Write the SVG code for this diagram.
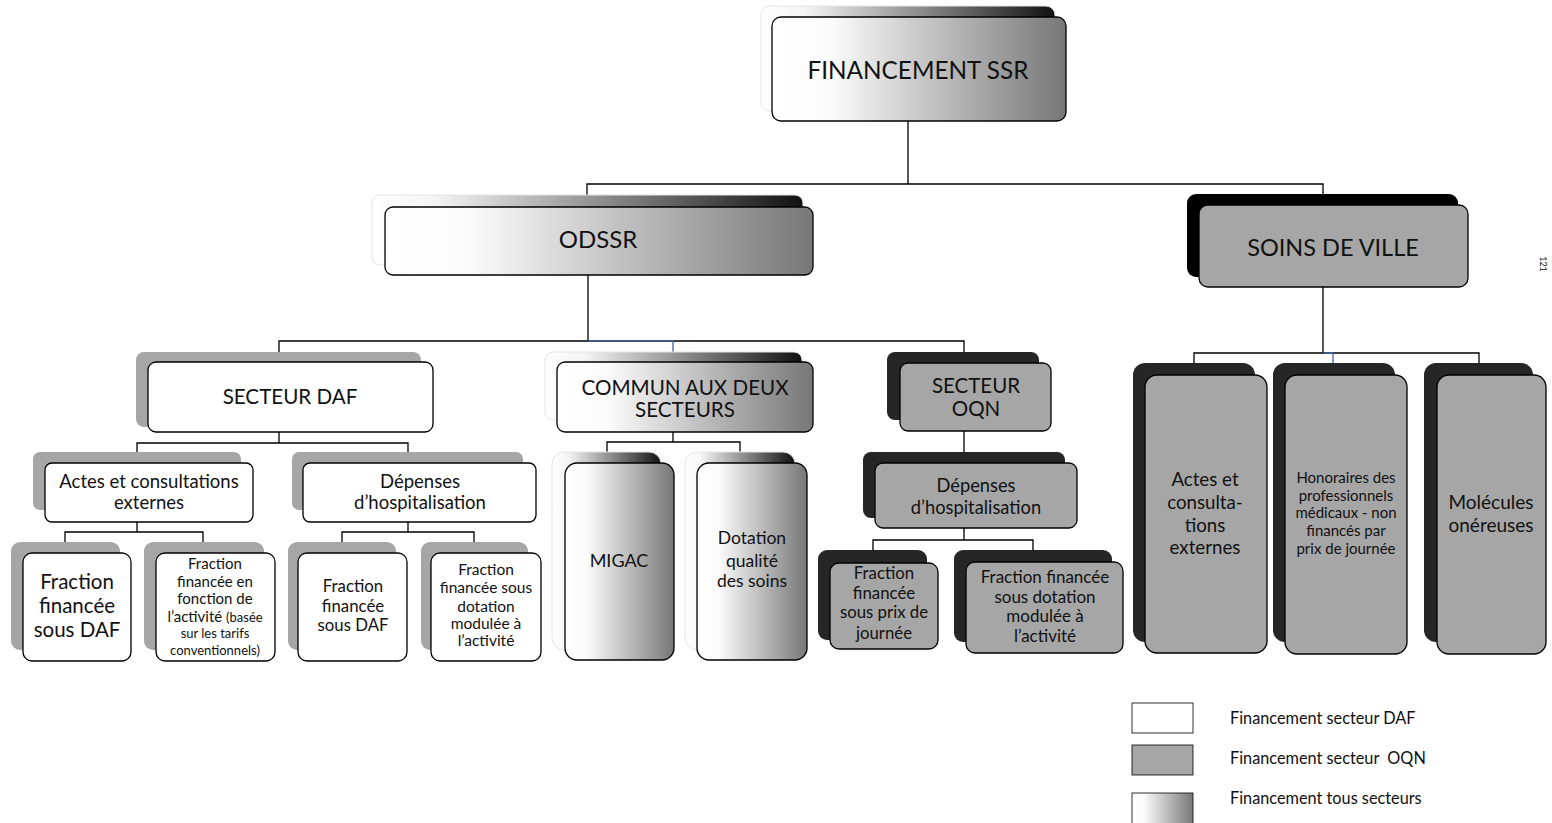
<svg xmlns="http://www.w3.org/2000/svg" width="1552" height="823" viewBox="0 0 1552 823">
<defs>
<linearGradient id="gMain" x1="0" y1="0" x2="1" y2="0">
<stop offset="0" stop-color="#ffffff"/><stop offset="0.2" stop-color="#fbfbfb"/><stop offset="1" stop-color="#777777"/>
</linearGradient>
<linearGradient id="gShadow" x1="0" y1="0" x2="1" y2="0">
<stop offset="0" stop-color="#ffffff"/><stop offset="0.15" stop-color="#f4f4f4"/><stop offset="1" stop-color="#111111"/>
</linearGradient>
<style>
.m{stroke:#000;stroke-width:1.3}
.w{fill:#fff}
.g{fill:#a6a6a6}
.gr{fill:url(#gMain)}
.sg{fill:#a6a6a6}
.sd{fill:#262626}
.sb{fill:#000}
.sgr{fill:url(#gShadow);stroke:#e4e4e4;stroke-width:1}
text{font-family:Lato,"Liberation Sans",sans-serif;fill:#111;text-anchor:middle}
.c{fill:none;stroke:#000;stroke-width:1.3}
.cb{fill:none;stroke:#3f62a0;stroke-width:1.3}
.lg{text-anchor:start;font-size:16.3px}
</style>
</defs>
<rect width="1552" height="823" fill="#fff"/>

<g id="connectors">
<path class="c" d="M908,121 V184 M587,195 V184 H1323 V194"/>
<path class="c" d="M588,275 V341 M279,352 V341 H964 V352"/>
<path class="cb" d="M588,341 H673 V352"/>
<path class="c" d="M279,432 V443 M137,452 V443 H408 V452"/>
<path class="c" d="M137,522 V532 M65,542 V532 H203 V542"/>
<path class="c" d="M408,522 V532 M342,542 V532 H474 V542"/>
<path class="c" d="M673,432 V442 M607,452 V442 H740 V452"/>
<path class="c" d="M964,431 V452"/>
<path class="c" d="M964,528 V540 M873,550 V540 H1033 V550"/>
<path class="c" d="M1323,287 V353 M1194,363 V353 H1479 V363"/>
<path class="cb" d="M1323,353 H1333 V363"/>
</g>

<g id="n-financement">
<rect class="sgr" x="761" y="6" width="294" height="105" rx="9"/>
<rect class="m gr" x="772" y="17" width="294" height="104" rx="9"/>
<text x="918" y="79" font-size="24.3">FINANCEMENT SSR</text>
</g>

<g id="n-odssr">
<rect class="sgr" x="372" y="195" width="431" height="70" rx="8"/>
<rect class="m gr" x="385" y="207" width="428" height="68" rx="8"/>
<text x="598" y="248" font-size="24">ODSSR</text>
</g>

<g id="n-soins">
<rect class="sb" x="1187" y="194" width="271" height="83" rx="9"/>
<rect class="m g" x="1199" y="205" width="269" height="82" rx="9"/>
<text x="1333" y="256" font-size="23.5">SOINS DE VILLE</text>
</g>

<g id="n-secteur-daf">
<rect class="sg" x="136" y="352" width="285" height="75" rx="8"/>
<rect class="m w" x="148" y="362" width="285" height="70" rx="8"/>
<text x="290" y="404" font-size="20.6">SECTEUR DAF</text>
</g>

<g id="n-commun">
<rect class="sgr" x="545" y="352" width="257" height="68" rx="8"/>
<rect class="m gr" x="557" y="362" width="256" height="70" rx="8"/>
<text x="685" y="395" font-size="20.6">COMMUN AUX DEUX</text>
<text x="685" y="417" font-size="20.6">SECTEURS</text>
</g>

<g id="n-secteur-oqn">
<rect class="sd" x="887" y="352" width="152" height="68" rx="8"/>
<rect class="m g" x="900" y="363" width="151" height="68" rx="8"/>
<text x="976" y="393" font-size="20.5">SECTEUR</text>
<text x="976" y="416" font-size="20.5">OQN</text>
</g>

<g id="n-actes-daf">
<rect class="sg" x="33" y="452" width="208" height="58" rx="7"/>
<rect class="m w" x="45" y="463" width="208" height="59" rx="7"/>
<text x="149" y="488" font-size="18.5">Actes et consultations</text>
<text x="149" y="509" font-size="18.5">externes</text>
</g>

<g id="n-depenses-daf">
<rect class="sg" x="292" y="452" width="231" height="58" rx="7"/>
<rect class="m w" x="303" y="463" width="233" height="59" rx="7"/>
<text x="420" y="488" font-size="18.5">Dépenses</text>
<text x="420" y="509" font-size="18.5">d’hospitalisation</text>
</g>

<g id="n-fraction-daf-1">
<rect class="sg" x="11" y="542" width="109" height="108" rx="9"/>
<rect class="m w" x="23" y="553" width="108" height="108" rx="9"/>
<text x="77" y="589" font-size="20.5">Fraction</text>
<text x="77" y="613" font-size="20.5">financée</text>
<text x="77" y="637" font-size="20.5">sous DAF</text>
</g>

<g id="n-fraction-activite">
<rect class="sg" x="144" y="542" width="120" height="108" rx="9"/>
<rect class="m w" x="156" y="553" width="119" height="108" rx="9"/>
<text x="215" y="569" font-size="15">Fraction</text>
<text x="215" y="587" font-size="15">financée en</text>
<text x="215" y="604" font-size="15">fonction de</text>
<text x="215" y="622" font-size="15">l’activité <tspan font-size="13">(basée</tspan></text>
<text x="215" y="638" font-size="13">sur les tarifs</text>
<text x="215" y="655" font-size="13">conventionnels)</text>
</g>

<g id="n-fraction-daf-2">
<rect class="sg" x="288" y="542" width="108" height="108" rx="9"/>
<rect class="m w" x="298" y="553" width="109" height="108" rx="9"/>
<text x="353" y="592" font-size="16.8">Fraction</text>
<text x="353" y="612" font-size="16.8">financée</text>
<text x="353" y="631" font-size="16.8">sous DAF</text>
</g>

<g id="n-fraction-dotation-daf">
<rect class="sg" x="421" y="542" width="107" height="108" rx="9"/>
<rect class="m w" x="431" y="553" width="110" height="108" rx="9"/>
<text x="486" y="575" font-size="15.5">Fraction</text>
<text x="486" y="593" font-size="15.5">financée sous</text>
<text x="486" y="612" font-size="15.5">dotation</text>
<text x="486" y="629" font-size="15.5">modulée à</text>
<text x="486" y="646" font-size="15.5">l’activité</text>
</g>

<g id="n-migac">
<rect class="sgr" x="552" y="452" width="109" height="198" rx="12"/>
<rect class="m gr" x="565" y="463" width="109" height="197" rx="12"/>
<text x="619" y="567" font-size="18">MIGAC</text>
</g>

<g id="n-dotation-qualite">
<rect class="sgr" x="685" y="452" width="110" height="198" rx="12"/>
<rect class="m gr" x="697" y="463" width="110" height="197" rx="12"/>
<text x="752" y="544" font-size="17.5">Dotation</text>
<text x="752" y="567" font-size="17.5">qualité</text>
<text x="752" y="587" font-size="17.5">des soins</text>
</g>

<g id="n-depenses-oqn">
<rect class="sd" x="863" y="452" width="202" height="66" rx="8"/>
<rect class="m g" x="875" y="463" width="202" height="65" rx="8"/>
<text x="976" y="492" font-size="18.3">Dépenses</text>
<text x="976" y="514" font-size="18.3">d’hospitalisation</text>
</g>

<g id="n-fraction-prix-journee">
<rect class="sd" x="818" y="550" width="109" height="90" rx="9"/>
<rect class="m g" x="830" y="563" width="108" height="86" rx="9"/>
<text x="884" y="579" font-size="16.8">Fraction</text>
<text x="884" y="599" font-size="16.8">financée</text>
<text x="884" y="618" font-size="16.8">sous prix de</text>
<text x="884" y="639" font-size="16.8">journée</text>
</g>

<g id="n-fraction-dotation-oqn">
<rect class="sd" x="954" y="550" width="158" height="92" rx="9"/>
<rect class="m g" x="966" y="562" width="157" height="91" rx="9"/>
<text x="1045" y="583" font-size="17">Fraction financée</text>
<text x="1045" y="603" font-size="17">sous dotation</text>
<text x="1045" y="622" font-size="17">modulée à</text>
<text x="1045" y="642" font-size="17">l’activité</text>
</g>

<g id="n-actes-ville">
<rect class="sd" x="1133" y="363" width="122" height="279" rx="12"/>
<rect class="m g" x="1145" y="375" width="122" height="278" rx="12"/>
<text x="1205" y="486" font-size="18.7">Actes et</text>
<text x="1205" y="509" font-size="18.7">consulta-</text>
<text x="1205" y="532" font-size="18.7">tions</text>
<text x="1205" y="554" font-size="18.7">externes</text>
</g>

<g id="n-honoraires">
<rect class="sd" x="1273" y="363" width="122" height="279" rx="12"/>
<rect class="m g" x="1285" y="375" width="122" height="279" rx="12"/>
<text x="1346" y="483" font-size="15">Honoraires des</text>
<text x="1346" y="501" font-size="15">professionnels</text>
<text x="1346" y="518" font-size="15">médicaux - non</text>
<text x="1346" y="536" font-size="15">financés par</text>
<text x="1346" y="554" font-size="15">prix de journée</text>
</g>

<g id="n-molecules">
<rect class="sd" x="1424" y="363" width="109" height="279" rx="12"/>
<rect class="m g" x="1437" y="375" width="109" height="279" rx="12"/>
<text x="1491" y="509" font-size="19">Molécules</text>
<text x="1491" y="532" font-size="19">onéreuses</text>
</g>

<g id="legend">
<rect x="1132" y="703" width="61" height="30" fill="#fff" stroke="#000" stroke-width="0.8"/>
<text class="lg" x="1230" y="724">Financement secteur DAF</text>
<rect x="1132" y="745" width="61" height="30" fill="#a6a6a6" stroke="#000" stroke-width="0.8"/>
<text class="lg" x="1230" y="764" xml:space="preserve">Financement secteur  OQN</text>
<rect x="1132" y="793" width="61" height="32" fill="url(#gMain)" stroke="#000" stroke-width="0.8"/>
<text class="lg" x="1230" y="804">Financement tous secteurs</text>
</g>

<text x="1540" y="264" font-size="9" fill="#333" text-anchor="start" transform="rotate(90 1540 264)">121</text>
</svg>
